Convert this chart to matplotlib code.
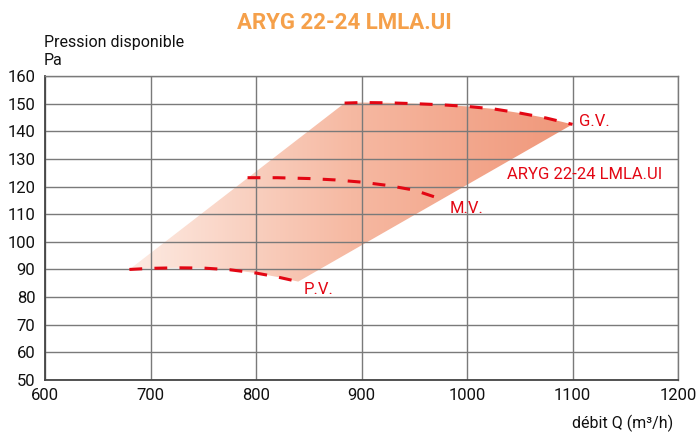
import numpy as np
import matplotlib
matplotlib.use('Agg')
import matplotlib.pyplot as plt
from matplotlib.colors import LinearSegmentedColormap
from matplotlib.patches import Polygon

plt.rcParams['font.family'] = ['Roboto', 'DejaVu Sans']

# data
gv_q = [884, 900, 925, 950, 975, 1000, 1025, 1050, 1075, 1100]
gv_p = [150.2, 150.4, 150.3, 150.0, 149.6, 149.0, 148.1, 146.6, 144.8, 142.5]
mv_q = [792, 820, 850, 875, 900, 925, 950, 976]
mv_p = [123.2, 123.2, 122.9, 122.4, 121.6, 120.4, 118.7, 115.4]
pv_q = [680, 700, 725, 750, 775, 800, 820, 840]
pv_p = [90.0, 90.4, 90.6, 90.5, 89.9, 88.7, 87.3, 85.6]

x_ticks = [600, 700, 800, 900, 1000, 1100, 1200]
y_ticks = [50, 60, 70, 80, 90, 100, 110, 120, 130, 140, 150, 160]

RED = '#e30613'

fig = plt.figure(figsize=(6.99, 4.34), dpi=100)
ax = fig.add_axes([45 / 699, 1 - 380 / 434, 633 / 699, 304 / 434])

# shaded operating zone: PV bottom edge, straight sides, GV top edge
zone = [(pv_q[0], pv_p[0])] + list(zip(gv_q, gv_p)) + list(zip(pv_q, pv_p))[::-1]
poly = Polygon(zone, closed=True, facecolor='none', edgecolor='none')
ax.add_patch(poly)

cmap = LinearSegmentedColormap.from_list('zone', ['#fdebe3', '#f6b9a2', '#f0977a'])
grad = np.linspace(0, 1, 256).reshape(1, -1)
img = ax.imshow(grad, cmap=cmap, aspect='auto', zorder=0,
                extent=[min(pv_q), max(gv_q), min(pv_p), max(gv_p)],
                interpolation='bilinear')
img.set_clip_path(poly)

dash = (0, (4.2, 4.0))
for q, p in [(gv_q, gv_p), (mv_q, mv_p), (pv_q, pv_p)]:
    ax.plot(q, p, color=RED, lw=2.2, linestyle=dash, zorder=3)

ax.text(1106, 143.4, 'G.V.', color=RED, fontsize=12, va='center', ha='left')
ax.text(1038, 124.2, 'ARYG 22-24 LMLA.UI', color=RED, fontsize=12, va='center', ha='left')
ax.text(984, 111.9, 'M.V.', color=RED, fontsize=12, va='center', ha='left')
ax.text(845, 82.6, 'P.V.', color=RED, fontsize=12, va='center', ha='left')

ax.set_xlim(600, 1200)
ax.set_ylim(50, 160)
ax.set_xticks(x_ticks)
ax.set_yticks(y_ticks)
ax.set_axisbelow('line')
ax.grid(True, color='#7a7a7a', lw=1.0)
ax.tick_params(length=0, labelsize=12, colors='#111111')
ax.tick_params(axis='y', pad=7)
ax.tick_params(axis='x', pad=6)
for s in ['left', 'bottom']:
    ax.spines[s].set_color('#444444')
    ax.spines[s].set_linewidth(1.3)
for s in ['top', 'right']:
    ax.spines[s].set_color('#7a7a7a')
    ax.spines[s].set_linewidth(1.0)

fig.text(344 / 699, 1 - 23 / 434, 'ARYG 22-24 LMLA.UI', color='#f5a04a',
         fontsize=16, fontweight='bold', ha='center', va='center')
fig.text(44 / 699, 1 - 43 / 434, 'Pression disponible', fontsize=11.5,
         ha='left', va='center', color='#111111')
fig.text(44 / 699, 1 - 60 / 434, 'Pa', fontsize=11.5, ha='left', va='center',
         color='#111111')
fig.text(673 / 699, 1 - 423 / 434, 'débit Q (m³/h)', fontsize=11.5,
         ha='right', va='center', color='#111111')

fig.savefig('out.png', dpi=100)
